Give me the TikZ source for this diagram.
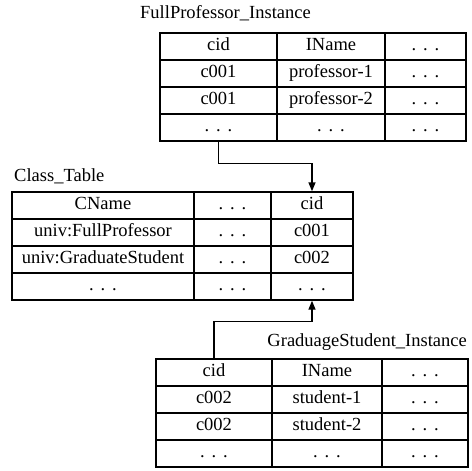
\documentclass[tikz,border=0pt]{standalone}
\usepackage{fontspec}
\setmainfont{Liberation Serif}
\usetikzlibrary{arrows.meta}
\newcommand{\ddd}{.\hspace{0.37em}.\hspace{0.37em}.}
\begin{document}
\begin{tikzpicture}[x=1pt,y=-1pt,
  cell/.style={draw, line width=1.4pt, minimum height=27pt, inner sep=0pt,
    text height=12.5pt, text depth=4pt, font=\fontsize{18.5}{20}\selectfont},
  ttl/.style={inner sep=0pt, font=\fontsize{18.5}{20}\selectfont},
  link/.style={draw, line width=1.4pt, -{Triangle[length=9pt,width=7pt]}}]
\useasboundingbox (0,0) rectangle (472,471);

% ---- FullProfessor_Instance ----
\node[ttl, anchor=west] (t1) at (140,13) {FullProfessor\_Instance};
\tikzset{c1/.style={cell, minimum width=117pt}, c2/.style={cell, minimum width=108pt}, c3/.style={cell, minimum width=81pt}}
\node[c1] (fp11) at (218.5,46.5) {cid};
\node[c2] (fp12) at (331,46.5) {IName};
\node[c3] (fp13) at (425.5,46.5) {\ddd};
\node[c1] (fp21) at (218.5,73.5) {c001};
\node[c2] (fp22) at (331,73.5) {professor-1};
\node[c3] (fp23) at (425.5,73.5) {\ddd};
\node[c1] (fp31) at (218.5,100.5) {c001};
\node[c2] (fp32) at (331,100.5) {professor-2};
\node[c3] (fp33) at (425.5,100.5) {\ddd};
\node[c1] (fp41) at (218.5,127.5) {\ddd};
\node[c2] (fp42) at (331,127.5) {\ddd};
\node[c3] (fp43) at (425.5,127.5) {\ddd};

% ---- Class_Table ----
\node[ttl, anchor=west] (t2) at (14,176) {Class\_Table};
\tikzset{k1/.style={cell, minimum width=182pt}, k2/.style={cell, minimum width=77pt}, k3/.style={cell, minimum width=82pt}}
\node[k1] (ct11) at (103,205.5) {CName};
\node[k2] (ct12) at (232.5,205.5) {\ddd};
\node[k3] (ct13) at (312,205.5) {cid};
\node[k1] (ct21) at (103,232.5) {univ:FullProfessor};
\node[k2] (ct22) at (232.5,232.5) {\ddd};
\node[k3] (ct23) at (312,232.5) {c001};
\node[k1] (ct31) at (103,259.5) {univ:GraduateStudent};
\node[k2] (ct32) at (232.5,259.5) {\ddd};
\node[k3] (ct33) at (312,259.5) {c002};
\node[k1] (ct41) at (103,286.5) {\ddd};
\node[k2] (ct42) at (232.5,286.5) {\ddd};
\node[k3] (ct43) at (312,286.5) {\ddd};

% ---- GraduageStudent_Instance ----
\node[ttl, anchor=east] (t3) at (467,342) {GraduageStudent\_Instance};
\tikzset{g1/.style={cell, minimum width=116pt}, g2/.style={cell, minimum width=110pt}, g3/.style={cell, minimum width=86pt}}
\node[g1] (gs11) at (214,372.5) {cid};
\node[g2] (gs12) at (327,372.5) {IName};
\node[g3] (gs13) at (425,372.5) {\ddd};
\node[g1] (gs21) at (214,399.5) {c002};
\node[g2] (gs22) at (327,399.5) {student-1};
\node[g3] (gs23) at (425,399.5) {\ddd};
\node[g1] (gs31) at (214,426.5) {c002};
\node[g2] (gs32) at (327,426.5) {student-2};
\node[g3] (gs33) at (425,426.5) {\ddd};
\node[g1] (gs41) at (214,453.5) {\ddd};
\node[g2] (gs42) at (327,453.5) {\ddd};
\node[g3] (gs43) at (425,453.5) {\ddd};

% ---- connectors ----
\draw[link] (fp41.south) -- ++(0,22) -| (ct13.north);
\draw[link] (gs11.north) -- ++(0,-37) -| (ct43.south);
\end{tikzpicture}
\end{document}
